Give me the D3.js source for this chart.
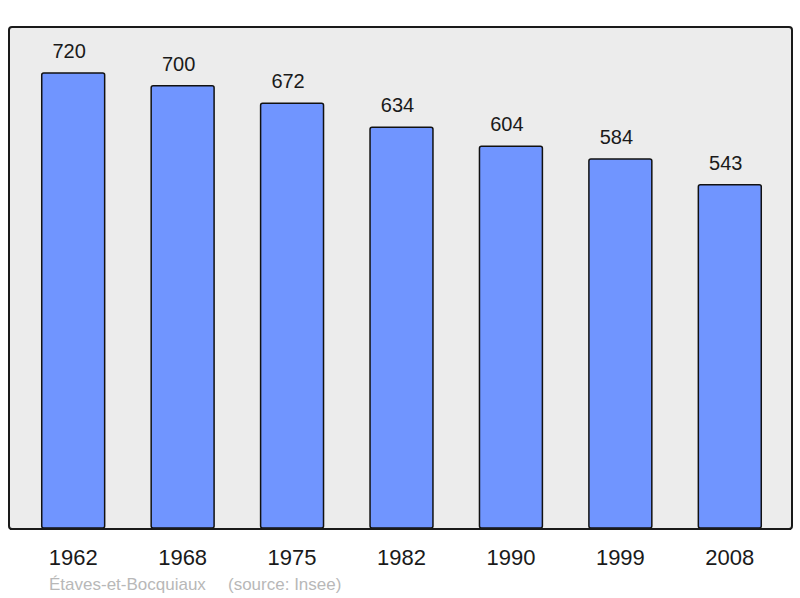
<!DOCTYPE html>
<html lang="fr">
<head>
    <meta charset="UTF-8">
    <title>Étaves-et-Bocquiaux population</title>
    <script src="https://cdnjs.cloudflare.com/ajax/libs/d3/7.8.5/d3.min.js"></script>
    <style>
        body { margin: 0; background: #fff; }
        svg { display: block; font-family: "Liberation Sans", Arial, sans-serif; }
    </style>
</head>
<body>
    <svg id="chart" width="800" height="598"></svg>
    <script>
        // Data
        const years = ["1962", "1968", "1975", "1982", "1990", "1999", "2008"];
        const population = [720, 700, 672, 634, 604, 584, 543];
        const commune = "Étaves-et-Bocquiaux";
        const source = "(source: Insee)";

        const data = years.map((y, i) => ({ year: y, value: population[i] }));

        const svg = d3.select("#chart");

        // Panel
        const panel = { x: 9, y: 27, w: 783, h: 502 };
        const baseline = 528;

        svg.append("rect")
            .attr("x", panel.x)
            .attr("y", panel.y)
            .attr("width", panel.w)
            .attr("height", panel.h)
            .attr("rx", 3)
            .attr("fill", "#ececec")
            .attr("stroke", "#1a1a1a")
            .attr("stroke-width", 2);

        // Scales
        const x = d3.scaleBand()
            .domain(years)
            .range([10, 793])
            .paddingInner(0.425)
            .paddingOuter(0.29);

        const y = d3.scaleLinear()
            .domain([0, 720])
            .range([baseline, 73]);

        // Bars
        svg.append("g")
            .selectAll("rect")
            .data(data)
            .join("rect")
            .attr("x", d => x(d.year))
            .attr("y", d => y(d.value))
            .attr("width", x.bandwidth())
            .attr("height", d => baseline - y(d.value))
            .attr("rx", 2)
            .attr("fill", "#7095ff")
            .attr("stroke", "#111")
            .attr("stroke-width", 1.5);

        // Redraw the panel bottom edge over bars
        svg.append("line")
            .attr("x1", panel.x + 1)
            .attr("x2", panel.x + panel.w - 1)
            .attr("y1", panel.y + panel.h)
            .attr("y2", panel.y + panel.h)
            .attr("stroke", "#1a1a1a")
            .attr("stroke-width", 2);

        // Value labels (sit slightly left of the bar centre, as in the original)
        svg.append("g")
            .selectAll("text")
            .data(data)
            .join("text")
            .attr("x", d => x(d.year) + x.bandwidth() / 2 - 4)
            .attr("y", d => y(d.value) - 15)
            .attr("text-anchor", "middle")
            .attr("font-size", 20)
            .attr("fill", "#1a1a1a")
            .text(d => d.value);

        // Year axis labels
        const xAxis = d3.axisBottom(x).tickSize(0).tickPadding(0);
        const gx = svg.append("g")
            .attr("transform", `translate(0,${baseline})`)
            .call(xAxis);
        gx.select(".domain").remove();
        gx.selectAll("text")
            .attr("font-family", "'Liberation Sans', Arial, sans-serif")
            .attr("font-size", 22)
            .attr("fill", "#1a1a1a")
            .attr("dy", null)
            .attr("y", 37);

        // Footer
        svg.append("text")
            .attr("x", 49)
            .attr("y", 590)
            .attr("font-size", 17)
            .attr("fill", "#b8b8b8")
            .text(commune);

        svg.append("text")
            .attr("x", 228)
            .attr("y", 590)
            .attr("font-size", 17)
            .attr("fill", "#b8b8b8")
            .text(source);
    </script>
</body>
</html>
